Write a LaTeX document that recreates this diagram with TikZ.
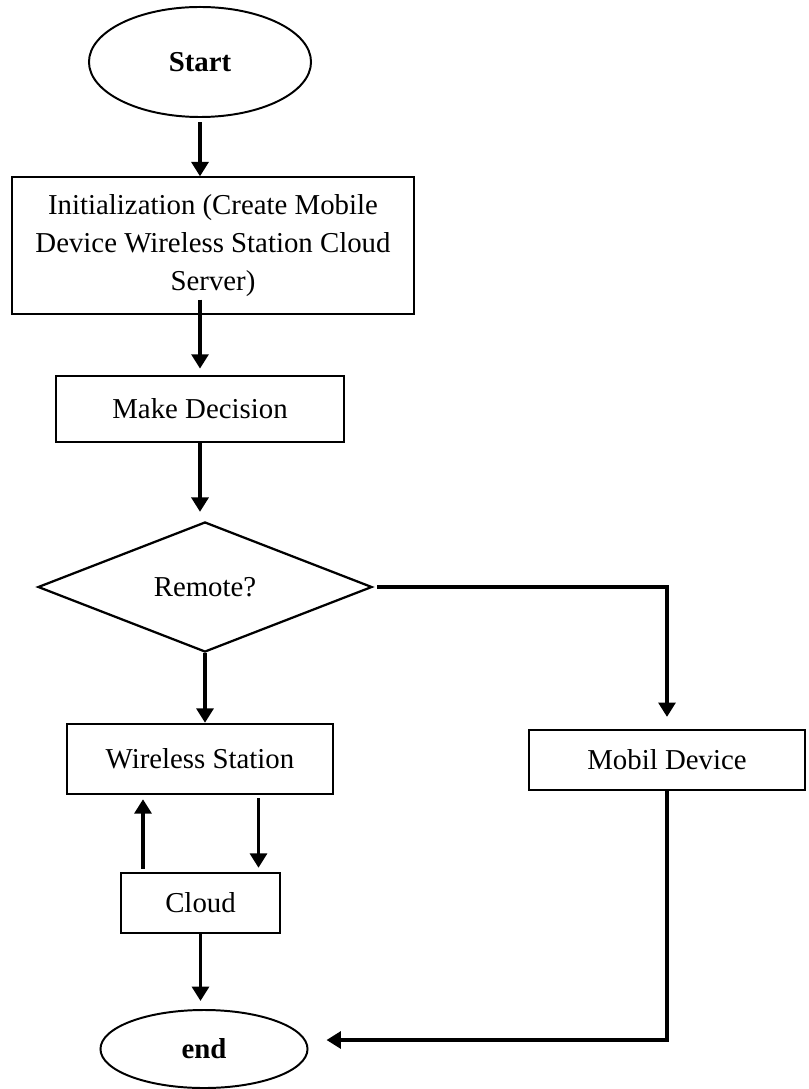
\documentclass[tikz,border=0pt]{standalone}
\usepackage{fontspec}
\setmainfont{Liberation Serif}
\usetikzlibrary{shapes.geometric,arrows.meta,calc}

\begin{document}
\begin{tikzpicture}[x=0.025cm,y=-0.025cm,
        font=\fontsize{20.5}{27}\selectfont,
        terminal/.style={ellipse,draw,line width=1.4pt,inner sep=0pt},
        procbox/.style={rectangle,draw,inner sep=0pt,align=center},
        decide/.style={diamond,draw,line width=1.6pt,inner sep=0pt},
        flow/.style={line width=2.8pt,-{Triangle[length=0.36cm,width=0.42cm]}}]
        \useasboundingbox (0,0) rectangle (808,1089);
        % nodes
        \node[terminal,minimum width=5.55cm,minimum height=2.75cm] (start) at (200,62) {\textbf{Start}};
        \node[procbox,line width=0.9pt,minimum width=10.05cm,minimum height=3.425cm] (init) at (213,245.5)
            {Initialization (Create Mobile\\Device Wireless Station Cloud\\Server)};
        \node[procbox,line width=1.9pt,minimum width=7.2cm,minimum height=1.65cm] (decision) at (200,409) {Make Decision};
        \node[decide,minimum width=8.35cm,minimum height=3.25cm] (remote) at (205,587) {Remote?};
        \node[procbox,line width=1.7pt,minimum width=6.65cm,minimum height=1.75cm] (station) at (200,759) {Wireless Station};
        \node[procbox,line width=1.7pt,minimum width=3.975cm,minimum height=1.5cm] (cloud) at (200.5,903) {Cloud};
        \node[terminal,minimum width=5.175cm,minimum height=1.95cm] (stop) at (204,1049) {\textbf{end}};
        \node[procbox,line width=1.5pt,minimum width=6.9cm,minimum height=1.5cm] (mobile) at (667,760) {Mobil Device};
        % connectors
        \draw[flow,shorten <=3pt] (start.south) -- (start.south |- init.north);
        \draw[flow,shorten >=0.15cm] ($(decision.north |- init.south)+(0,-15)$) -- (decision.north);
        \draw[flow,shorten >=0.225cm] (decision.south) -- (decision.south |- remote.north);
        \draw[flow,shorten <=0.1cm,shorten >=0.3cm] (remote.east) -| (mobile.north);
        \draw[flow] (remote.south) -- (remote.south |- station.north);
        \draw[flow] ($(station.south)+(58.5,3)$) -- ($(cloud.north)+(58,-4)$);
        \draw[flow] ($(cloud.north)+(-57.5,-3)$) -- ($(station.south)+(-57,4)$);
        \draw[flow,shorten >=0.2cm] (cloud.south) -- (cloud.south |- stop.north);
        \draw[flow,shorten >=0.45cm] (mobile.south) |- ($(stop.east)+(0,-9)$);
    \end{tikzpicture}
\end{document}
